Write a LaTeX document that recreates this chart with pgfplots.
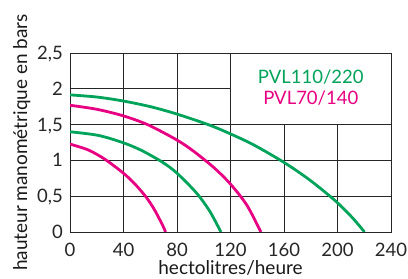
\documentclass[border=0pt]{standalone}
\usepackage{pgfplots}
\pgfplotsset{compat=1.18}
\usepackage{fontspec}
\setmainfont{Lato}
\definecolor{cgreen}{RGB}{0,163,90}
\definecolor{cpink}{RGB}{232,0,130}
\begin{document}
\begin{tikzpicture}
\begin{axis}[
  scale only axis,
  width=321pt, height=179pt,
  xmin=0, xmax=240, ymin=0, ymax=2.5,
  xtick={0,40,...,240},
  ytick={0,0.5,1,1.5,2,2.5},
  yticklabels={0,{0,5},1,{1,5},2,{2,5}},
  /pgf/number format/assume math mode=true,
  tick style={draw=none},
  grid=major,
  grid style={black!85, line width=0.9pt},
  axis line style={black!85, line width=0.9pt},
  tick label style={font=\fontsize{18.5}{20}\selectfont, text=black!85, inner sep=0pt},
  xticklabel style={anchor=north, yshift=-11pt},
  yticklabel style={anchor=base east, xshift=-7pt, yshift=-6.6pt},
  label style={font=\fontsize{19}{20}\selectfont, text=black!90},
  xlabel={hectolitres/heure},
  ylabel={hauteur manométrique en bars},
  xlabel style={at={(rel axis cs:0.5,0)}, anchor=base, inner sep=0pt, yshift=-42.5pt},
  ylabel style={at={(rel axis cs:0,0.5)}, anchor=south, inner sep=0pt, yshift=39.5pt},
]
\coordinate (bl) at (rel axis cs:0,0);
\coordinate (tr) at (rel axis cs:1,1);
\addplot[cgreen, line width=2.8pt, smooth] coordinates {
 (0,1.915) (20,1.885) (39.7,1.830) (60,1.751) (79.6,1.649) (103.3,1.500) (118.3,1.384)
 (137.2,1.218) (160.4,0.967) (179.6,0.721) (198.4,0.435) (210.8,0.206) (220.2,0)};
\addplot[cpink, line width=2.8pt, smooth] coordinates {
 (0,1.770) (20,1.714) (39.7,1.623) (58.4,1.496) (79.9,1.285) (92.1,1.132) (107.3,0.904)
 (119.8,0.673) (132.3,0.373) (142.7,0)};
\addplot[cgreen, line width=2.8pt, smooth] coordinates {
 (0,1.400) (21.2,1.349) (39.7,1.247) (53.4,1.140) (69,0.976) (79.9,0.823) (94.8,0.540)
 (104.8,0.280) (112.8,0)};
\addplot[cpink, line width=2.8pt, smooth] coordinates {
 (0,1.227) (13.5,1.147) (26,1.017) (39.7,0.825) (48.4,0.673) (57.1,0.483) (63.4,0.303)
 (69.6,0.080) (71.4,0)};
\draw[black!85, line width=0.9pt, fill=white] (axis cs:120,1.5) rectangle (axis cs:240,2.5);
\node[text=cgreen, font=\fontsize{18.5}{20}\selectfont] at (axis cs:180,2.16) {PVL110/220};
\node[text=cpink, font=\fontsize{18.5}{20}\selectfont] at (axis cs:180,1.87) {PVL70/140};
\end{axis}
\pgfresetboundingbox
\path[use as bounding box] ([shift={(-70pt,-47pt)}]bl) rectangle ([shift={(17pt,53pt)}]tr);
\end{tikzpicture}
\end{document}
